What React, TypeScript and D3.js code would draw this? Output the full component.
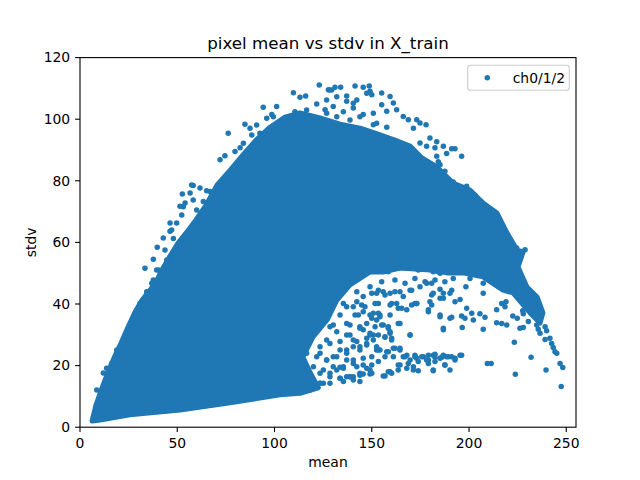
import { scaleLinear, line, curveLinearClosed } from 'd3'

type Pt = [number, number]

const xTicks = [0, 50, 100, 150, 200, 250]
const yTicks = [0, 20, 40, 60, 80, 100, 120]
const seriesLabel = 'ch0/1/2'

// outline of the solid (overplotted) part of the cloud, [mean, stdv]
const coreOutline: Pt[] = [
  [6.2, 2.0], [8.2, 7.2], [11.3, 12.7], [14.4, 17.9], [17.5, 22.5], [21.1, 27.3],
  [24.7, 32.5], [28.3, 37.4], [31.9, 41.3], [36.0, 44.5], [39.6, 47.8], [42.7, 51.7],
  [46.3, 55.6], [50.4, 59.8], [55.0, 63.4], [59.6, 67.3], [64.8, 72.1], [70.4, 78.6],
  [77.1, 83.4], [83.8, 88.4], [90.5, 93.2], [97.7, 97.4], [105.4, 100.7], [113.1, 102.0],
  [123.4, 100.4], [133.7, 98.4], [144.0, 97.1], [151.7, 95.5], [161.9, 93.2], [169.7, 91.3],
  [175.8, 87.4], [183.5, 84.5], [191.8, 79.3], [200.5, 77.0], [207.2, 72.8], [214.4, 69.5],
  [219.5, 63.1], [224.7, 57.5], [227.8, 56.9], [225.2, 52.0], [229.8, 45.5], [235.0, 42.3],
  [238.0, 37.1], [236.5, 33.8], [231.4, 37.1], [222.6, 43.6], [217.5, 44.5], [207.2, 48.8],
  [196.9, 50.1], [188.7, 50.1], [179.9, 51.0], [164.5, 51.7], [155.8, 50.4], [149.1, 50.4],
  [138.8, 46.2], [132.1, 41.3], [127.0, 34.8], [119.8, 29.3], [114.6, 22.8], [118.5, 17.5],
  [122.5, 12.8], [113.1, 11.0], [102.8, 10.5], [77.1, 7.9], [51.4, 5.6], [25.7, 4.0],
  [10.3, 2.3],
]

// single samples along the upper rim
const topFringe: Pt[] = [
  [76.2, 95.4], [84.8, 98.4], [94.2, 103.9], [101.1, 104.1], [109.7, 108.6], [113.1, 107.1],
  [116.0, 107.5], [123.0, 111.1], [126.8, 106.2], [128.2, 109.5], [131.1, 110.4], [134.0, 110.4],
  [137.1, 107.5], [141.4, 110.8], [145.6, 110.4], [148.7, 110.8], [150.0, 107.9], [121.7, 104.9],
  [90.8, 98.1], [87.4, 97.1], [92.5, 95.4], [99.4, 100.8], [96.0, 100.3], [102.8, 98.7],
  [72.0, 86.8], [74.5, 88.1], [79.7, 89.5], [84.0, 92.2], [88.3, 94.9], [110.5, 102.4],
  [130.2, 104.1], [140.5, 105.2], [52.6, 75.7], [58.2, 78.5], [56.6, 76.0], [61.7, 77.7],
  [65.1, 76.8], [70.3, 76.6], [51.4, 71.7], [54.0, 72.8], [46.3, 66.3], [49.7, 66.3],
  [46.3, 63.6], [42.8, 61.4], [39.7, 58.4], [82.3, 90.7], [98.6, 101.5], [89.1, 91.7],
  [63.4, 73.3], [127.7, 109.6], [149.1, 109.1], [155.1, 108.5], [159.4, 107.4], [161.1, 105.3],
  [155.1, 104.7], [157.7, 102.6], [162.8, 103.1], [166.2, 100.9], [168.8, 99.8], [173.1, 99.8],
  [174.8, 98.8], [177.9, 98.2], [171.4, 97.1], [157.7, 97.4], [150.8, 98.2], [145.6, 101.5],
  [140.5, 103.6], [137.1, 105.8], [126.0, 103.1], [179.9, 93.9], [178.2, 91.2], [182.5, 90.7],
  [186.8, 91.2], [191.1, 90.4], [192.8, 90.4], [196.2, 88.0], [183.4, 88.0], [174.8, 92.3],
  [185.1, 85.2], [187.6, 83.1], [191.9, 79.6], [198.8, 78.2], [203.1, 75.3], [206.5, 73.1],
  [209.1, 71.2], [212.5, 69.6], [215.0, 67.9], [217.6, 63.6], [219.4, 62.5], [224.5, 58.2],
  [228.8, 57.6], [183.4, 92.7], [188.5, 88.9], [184.2, 86.2], [217.6, 65.1],
  [129.4, 109.5], [132.0, 107.3], [135.4, 102.4], [142.3, 106.2], [147.4, 108.4], [150.8, 101.9],
  [143.9, 100.8], [138.8, 99.7], [152.5, 98.7], [132.0, 100.8], [126.8, 101.9], [119.9, 100.8],
  [116.5, 103.0], [111.4, 100.8], [106.3, 98.7],
]

const leftFringe: Pt[] = [
  [33.4, 51.6], [30.8, 40.2], [27.4, 33.7], [24.8, 28.3], [21.4, 24.5], [16.3, 20.7],
  [13.7, 19.1], [10.3, 8.8], [34.3, 44.0], [36.9, 46.7], [40.3, 51.0], [37.7, 54.5],
  [52.3, 68.9], [53.1, 71.6], [57.4, 78.6], [58.2, 73.8], [66.8, 76.5], [76.2, 79.2],
  [78.8, 80.8], [39.4, 51.0], [37.7, 47.8], [38.6, 46.2], [48.0, 61.3], [47.1, 64.0],
  [43.7, 57.5], [44.6, 54.3], [49.7, 56.5], [60.0, 70.5], [62.6, 67.8], [12.0, 17.6],
  [8.6, 12.1], [18.9, 25.1], [25.7, 31.6], [29.1, 37.0],
]

// sparse bands under the cloud (stdv ~15-45, mean ~120-195)
const lowerStrands: Pt[] = [
  [142.3, 44.0], [149.1, 45.6], [155.9, 44.0], [160.2, 40.2], [163.6, 38.6], [168.0, 38.1],
  [172.2, 40.2], [164.5, 33.7], [169.7, 29.9], [179.1, 37.5], [180.8, 42.9], [142.3, 40.7],
  [144.8, 39.7], [150.8, 37.0], [152.5, 34.8], [158.5, 32.1], [156.8, 29.2], [160.2, 28.9],
  [150.8, 29.9], [147.4, 28.9], [145.6, 31.6], [138.8, 33.2], [137.1, 29.9], [140.5, 26.1],
  [143.9, 25.1], [147.4, 27.2], [133.7, 25.1], [130.2, 22.9], [137.1, 21.8], [140.5, 20.7],
  [145.6, 20.2], [150.0, 20.2], [126.8, 21.8], [125.1, 18.6], [132.0, 18.6], [135.4, 19.1],
  [125.1, 14.3], [128.5, 14.3], [133.7, 15.9], [137.1, 16.4], [140.5, 16.4], [145.6, 17.3],
  [149.1, 17.3], [156.8, 16.6], [160.2, 17.5], [163.6, 18.6], [168.0, 19.1], [171.4, 19.6],
  [173.9, 18.3], [181.6, 18.6], [187.6, 20.2], [152.5, 25.1], [157.7, 24.5], [161.1, 25.6],
  [164.5, 25.6], [166.2, 22.9], [169.7, 21.8], [172.2, 22.9], [176.5, 22.9], [179.1, 21.8],
  [182.5, 22.7], [186.0, 22.7], [189.3, 22.9], [192.8, 21.8], [196.2, 23.4], [181.6, 23.4],
  [185.1, 22.4], [188.5, 22.9], [192.8, 22.4], [195.4, 23.4], [137.1, 39.1], [133.7, 36.4],
  [141.4, 36.4], [145.6, 37.5], [143.9, 32.6], [150.0, 35.4], [154.2, 35.9], [149.1, 30.5],
  [150.8, 28.3], [155.9, 33.2], [159.4, 30.5], [160.2, 28.3], [173.1, 40.2], [162.8, 40.2],
  [159.4, 43.5], [164.5, 44.0], [169.7, 44.5], [174.8, 45.6], [178.2, 46.7], [181.6, 43.5],
  [154.2, 25.1], [168.0, 23.4], [173.1, 22.4], [179.1, 20.7], [164.5, 20.2], [159.4, 18.0],
  [155.9, 16.6], [149.1, 18.6], [143.9, 17.5], [138.8, 16.4], [133.7, 19.5], [128.5, 17.5],
  [123.4, 14.3], [118.2, 12.1], [137.1, 25.1], [143.9, 26.1], [123.4, 24.0], [126.8, 28.3],
  [132.0, 31.0], [128.5, 32.6], [140.5, 28.3],
]

// the half-filled zone just below the solid arc
const midBand: Pt[] = [
  [145.6, 42.4], [150.0, 43.5], [153.4, 44.5], [135.4, 40.2], [140.5, 39.1], [146.5, 39.1],
  [151.7, 40.2], [143.1, 36.4], [149.1, 36.4], [153.4, 37.0], [130.2, 33.2], [137.1, 33.7],
  [138.8, 29.9], [143.9, 32.1], [147.4, 33.7], [151.7, 32.6], [149.1, 29.9], [153.4, 29.9],
  [123.4, 26.1], [128.5, 27.2], [133.7, 27.8], [142.3, 27.8], [147.4, 26.7], [152.5, 26.1],
  [116.5, 24.0], [121.7, 22.9], [126.8, 21.8], [132.0, 22.9], [137.1, 24.0], [140.5, 21.8],
  [145.6, 22.4], [150.0, 22.9], [153.4, 21.3], [130.2, 19.6], [135.4, 19.6], [142.3, 19.6],
  [147.4, 19.1], [120.0, 19.6], [114.8, 17.5], [118.2, 16.4], [123.4, 17.5], [128.5, 16.4],
  [133.7, 15.9], [138.8, 16.4], [143.9, 16.9], [150.0, 17.5], [123.4, 14.3], [135.4, 14.8],
  [140.5, 15.3], [143.9, 14.8],
  [153.4, 51.6], [158.5, 50.5], [163.6, 51.6], [168.8, 52.1], [173.9, 51.0], [179.1, 52.1],
  [184.2, 50.5], [189.3, 51.6], [155.1, 47.2], [161.9, 47.8], [167.1, 46.7], [172.2, 48.3],
  [177.4, 47.2], [182.5, 47.8], [187.6, 47.2], [191.9, 48.3], [152.5, 43.5], [156.8, 42.9],
  [161.9, 44.0], [166.2, 42.4], [170.5, 44.5], [153.4, 40.2], [159.4, 39.7], [165.4, 38.6],
  [170.5, 39.7], [173.1, 40.2], [179.9, 40.7], [186.8, 43.5], [191.1, 44.5], [185.1, 41.9],
  [154.2, 36.4], [159.4, 36.4], [155.1, 33.2], [158.5, 32.6], [163.6, 33.7], [156.8, 29.4],
  [159.4, 31.0], [179.1, 38.1], [185.1, 36.4], [190.2, 35.4], [186.8, 32.1], [169.7, 29.9],
  [153.4, 25.1], [158.5, 24.5], [161.9, 25.6], [164.5, 25.1], [156.8, 22.9], [161.1, 22.9],
  [167.1, 22.9], [172.2, 23.4], [175.7, 22.9], [179.1, 23.4], [182.5, 23.7], [186.8, 23.4],
  [191.1, 22.9], [168.8, 20.7], [173.9, 21.3], [178.2, 21.8], [182.5, 21.3], [187.6, 20.2],
  [163.6, 20.2], [158.5, 18.0], [171.4, 18.6], [181.6, 18.3], [190.2, 18.6],
]

// right-hand tail falling towards mean ~250
const rightArm: Pt[] = [
  [239.1, 32.6], [239.9, 31.3], [239.1, 28.5], [241.6, 28.9], [242.5, 27.2], [243.3, 25.9],
  [244.2, 24.5], [245.1, 24.0], [246.8, 20.7], [248.2, 19.4], [247.4, 13.2], [239.6, 18.6],
  [231.9, 22.7], [223.8, 17.2], [223.3, 27.6], [209.4, 20.7], [211.4, 20.7], [234.8, 33.2],
  [235.6, 31.8], [236.5, 30.5], [230.5, 34.3], [226.2, 32.1], [227.9, 32.4], [227.6, 37.8],
  [227.9, 36.8], [224.8, 35.4], [222.5, 36.1], [219.4, 33.2], [216.8, 33.7], [214.2, 33.9],
  [218.5, 39.1], [219.0, 40.7], [216.8, 40.2], [214.2, 38.1], [207.3, 43.5], [207.3, 31.8],
  [196.5, 32.4], [186.8, 31.6], [191.1, 35.7], [185.1, 35.9], [208.2, 35.7], [205.6, 36.8],
  [202.2, 34.8], [197.9, 35.4], [196.2, 36.1], [201.4, 37.0], [198.8, 38.6], [180.8, 39.7],
  [195.4, 41.5], [192.8, 40.7], [186.8, 41.9], [190.2, 43.5], [185.1, 44.8], [180.8, 46.7],
  [185.1, 50.0], [181.6, 50.5], [198.4, 45.6], [200.5, 48.3], [207.3, 46.7], [211.7, 47.2],
  [219.4, 48.9],
]

const width = 640
const height = 480
const plot = { left: 80, right: 576, top: 57.6, bottom: 427.2 }
const blue = '#1f77b4'
const font = 'DejaVu Sans, sans-serif'

export default function App() {
  const x = scaleLinear().domain([0, 255]).range([plot.left, plot.right])
  const y = scaleLinear().domain([0, 120]).range([plot.bottom, plot.top])

  const corePath = line<Pt>()
    .x((d) => x(d[0]))
    .y((d) => y(d[1]))
    .curve(curveLinearClosed)(coreOutline)

  const samples = [...topFringe, ...leftFringe, ...lowerStrands, ...midBand, ...rightArm]
  const midX = (plot.left + plot.right) / 2

  return (
    <svg
      width={width}
      height={height}
      viewBox={`0 0 ${width} ${height}`}
      style={{ position: 'absolute', left: 0, top: 0, background: '#fff' }}
      fontFamily={font}
    >
      <rect width={width} height={height} fill="#fff" />

      <path d={corePath ?? ''} fill={blue} stroke={blue} strokeWidth={5} strokeLinejoin="round" />
      {samples.map((d, i) => (
        <circle key={i} cx={x(d[0])} cy={y(d[1])} r={2.75} fill={blue} />
      ))}

      {/* frame */}
      <rect
        x={plot.left}
        y={plot.top}
        width={plot.right - plot.left}
        height={plot.bottom - plot.top}
        fill="none"
        stroke="#000"
        strokeWidth={1.1}
      />

      {xTicks.map((t) => (
        <g key={`x${t}`}>
          <line x1={x(t)} x2={x(t)} y1={plot.bottom} y2={plot.bottom + 4.9} stroke="#000" strokeWidth={1.1} />
          <text x={x(t)} y={plot.bottom + 20.5} fontSize={13.9} textAnchor="middle">
            {t}
          </text>
        </g>
      ))}

      {yTicks.map((t) => (
        <g key={`y${t}`}>
          <line x1={plot.left - 4.9} x2={plot.left} y1={y(t)} y2={y(t)} stroke="#000" strokeWidth={1.1} />
          <text x={plot.left - 9.8} y={y(t)} dy="0.35em" fontSize={13.9} textAnchor="end">
            {t}
          </text>
        </g>
      ))}

      <text x={midX} y={49.3} fontSize={16.7} textAnchor="middle">
        pixel mean vs stdv in X_train
      </text>
      <text x={midX} y={467} fontSize={13.9} textAnchor="middle">
        mean
      </text>
      <text transform={`translate(36, ${(plot.top + plot.bottom) / 2}) rotate(-90)`} fontSize={13.9} textAnchor="middle">
        stdv
      </text>

      {/* legend */}
      <rect x={467.7} y={65.3} width={101.6} height={25} rx={2.8} fill="#fff" fillOpacity={0.8} stroke="#cccccc" strokeWidth={1.1} />
      <circle cx={487.3} cy={77.8} r={2.75} fill={blue} />
      <text x={512.7} y={82.6} fontSize={13.9}>
        {seriesLabel}
      </text>
    </svg>
  )
}
